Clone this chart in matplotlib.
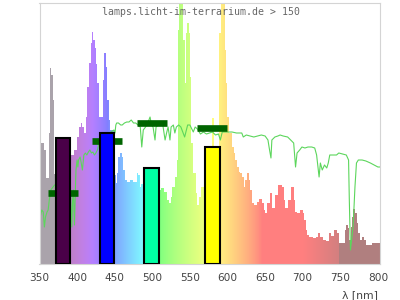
import numpy as np
import matplotlib
matplotlib.use("Agg")
import matplotlib.pyplot as plt

# ---- lamp spectrum (left edge of each step in nm, relative intensity) ----
lamp_wl = [351.5, 352.4, 356.4, 358.6, 362.6, 364.0, 365.8, 368.0, 369.4, 372, 376, 380, 384, 388,
           390.7, 396.0, 399.6, 402.7, 404.9, 407.1, 409.3, 411.5, 413.7, 415.9, 418.1, 419.4, 421.6,
           423.4, 425.5, 426.5, 428.7, 429.5, 434.8, 436.1, 438.7, 440.0, 442.2, 444.0,
           449.4, 451.2, 452.9, 454.7, 456.9, 459.1, 461.3, 463.5, 466.2, 470.2, 474.6, 479.0,
           481.2, 483.4, 485.6, 492, 500, 505, 508.9, 511.1, 515.6, 519.1, 522.2, 524.4, 526.6,
           529.7, 532.4, 534.1, 535.5, 540.8, 543.0, 545.2, 546.5, 548.7, 550.1, 551.8, 554.4,
           557.5, 559.7, 561.9, 564.1, 568.5, 574, 579.4, 581.6, 586, 589.1, 591.4, 596.3, 598.1,
           599.4, 601.6, 606.0, 608.2, 610.4, 612.6, 614.9, 617.1, 619.3, 621.5, 623.7, 625.9,
           628.1, 630.3, 632.5, 634.7, 639.2, 641.4, 645.8, 648.0, 650.2, 652.4, 656.9, 659, 663,
           667, 672, 675, 677, 681, 684, 688, 690, 693, 697, 700, 702, 704, 706, 709, 714, 718,
           720, 723, 727, 731, 735, 738, 742, 745, 748, 756, 757, 760, 762, 764, 766, 767.5, 770,
           772, 774, 776, 779, 782, 784, 792]
lamp_val = [104, 121, 114, 86, 131, 196, 189, 164, 90, 80, 85, 95, 90, 100,
            109, 114, 127, 137, 141, 137, 131, 147, 177, 201, 221, 232, 224,
            216, 200, 181, 151, 147, 184, 211, 197, 164, 144, 134,
            89, 81, 91, 107, 111, 107, 94, 84, 82, 84, 82, 91,
            89, 77, 80, 75, 72, 72, 74, 76, 72, 64, 61, 67, 77,
            87, 104, 234, 300, 224, 181, 231, 241, 231, 187, 121, 91,
            71, 59, 67, 77, 85, 95, 146, 100, 110, 231, 300, 214, 181,
            147, 131, 117, 111, 104, 97, 92, 91, 87, 77, 84, 91,
            84, 74, 61, 59, 62, 65, 61, 54, 51, 61, 71, 56, 69,
            79, 77, 64, 56, 64, 77, 64, 52, 51, 54, 51, 44, 34, 29, 27, 26, 27,
            31, 27, 24, 23, 31, 28, 34, 31, 21, 34, 39, 36, 24, 37, 47, 55, 51,
            41, 31, 24, 27, 24, 19, 21]

# ---- reference sunlight curve ----
sun_wl = [351.5, 353, 355, 356.5, 358, 360, 361.5, 363, 365, 370, 375, 380, 385, 390, 391, 392,
          393, 394, 395, 396.5, 397.5, 398.5, 400, 401, 402, 404, 405.5, 407, 409, 411, 413, 415,
          417, 419, 421, 423, 425, 427, 430, 435, 440, 445, 449, 450.4, 451.5, 452.6, 455, 458,
          460, 463, 466, 469, 472, 475, 478, 481, 484, 486, 488, 491, 494, 497, 499, 501, 503.6,
          505, 508, 511, 514, 517, 519, 521, 523.5, 525, 528, 530, 532, 535, 538, 541, 543, 545,
          547, 550, 554.5, 557, 560, 564, 568, 572, 576, 580, 584, 588, 590.5, 593, 600, 606, 612,
          619, 621, 625, 630, 635, 640, 645, 650, 653.8, 655.5, 657.8, 659, 663, 667, 670, 674,
          680, 684, 688, 690.5, 692.5, 696, 699, 703, 707, 712, 716, 718.5, 720, 721.8, 723.5,
          726, 729, 732, 734, 736, 740, 745, 748, 753, 758, 761, 762, 763.5, 765, 767, 769.5,
          771.5, 774, 779, 784, 790, 795, 800, 803]
sun_val = [49, 54, 52, 37, 47, 52, 54, 64, 74, 79, 79, 84, 79, 74, 74, 57,
           37, 64, 74, 39, 69, 94, 104, 97, 104, 107, 101, 94, 109, 111, 109, 112,
           114, 111, 112, 109, 111, 114, 124, 126, 129, 132, 134, 131, 139, 141, 141, 139,
           139, 141, 142, 142, 144, 141, 141, 139, 137, 117, 134, 137, 141, 147, 139, 137, 124,
           137, 139, 141, 139, 124, 131, 137, 124, 137, 139, 131, 137, 139, 137, 131, 127, 133,
           139, 139, 132, 137, 135, 130, 132, 130, 131, 132, 129, 130, 124, 132, 132, 132, 131,
           131, 127, 129, 128, 127, 128, 129, 128, 124, 116, 106, 124, 127, 128, 129, 128,
           127, 124, 121, 97, 111, 114, 117, 116, 117, 117, 116, 109, 99, 87, 101,
           94, 99, 96, 101, 109, 109, 109, 111, 110, 109, 104, 64, 14, 24, 37, 77,
           101, 104, 104, 103, 101, 99, 97, 97]

# ---- LED bars and their markers ----
led_center = [381, 440, 499, 580]
led_height = [126, 131, 96, 117]
led_colors = ["#4a0048", "#0000ff", "#00ffa4", "#ffff00"]
marker_val = [71, 123, 141, 136]

title = "lamps.licht-im-terrarium.de > 150"
xticks = [350, 400, 450, 500, 550, 600, 650, 700, 750, 800]
xlabel = "λ [nm]"

X0, X1 = 350, 803.2
YMAX = 261


def wl_color(w):
    if w < 380:
        return np.array([170, 163, 171]) / 255.0
    if w < 440:
        r, g, b = -(w - 440) / 60.0, 0.0, 1.0
    elif w < 490:
        r, g, b = 0.0, (w - 440) / 50.0, 1.0
    elif w < 510:
        r, g, b = 0.0, 1.0, -(w - 510) / 20.0
    elif w < 580:
        r, g, b = (w - 510) / 70.0, 1.0, 0.0
    elif w < 645:
        r, g, b = 1.0, -(w - 645) / 65.0, 0.0
    else:
        r, g, b = 1.0, 0.0, 0.0
    if w < 420:
        f = 0.3 + 0.7 * (w - 380) / 40.0
    elif w <= 700:
        f = 1.0
    else:
        f = 0.3 + 0.7 * (780 - w) / 80.0
    if w >= 748:
        f = 0.3
    c = np.clip(np.array([r, g, b]) * f, 0, 1) ** 0.8
    return 0.5 + 0.5 * c


fig = plt.figure(figsize=(4, 3), dpi=100)
ax = fig.add_axes([39.5 / 400, 36 / 300, (380.3 - 39.5) / 400, 261 / 300])
ax.set_xlim(X0, X1)
ax.set_ylim(0, YMAX)

# spectrum fill with wavelength gradient
edges = list(lamp_wl) + [X1]
vals = list(lamp_val) + [lamp_val[-1]]
poly = ax.fill_between(edges, vals, step="post", facecolor="none", edgecolor="none")
grid = np.linspace(X0, X1, 1200)
grad = np.array([wl_color(w) for w in grid])[None, :, :]
im = ax.imshow(grad, extent=[X0, X1, 0, YMAX], aspect="auto", origin="lower",
               interpolation="nearest", zorder=1)
im.set_clip_path(poly.get_paths()[0], transform=ax.transData)

# sunlight line
ax.plot(sun_wl, sun_val, color="#5cd65c", lw=0.8, zorder=2)

# markers
for c, v in zip(led_center, marker_val):
    ax.plot([c - 20, c + 20], [v, v], color="#006400", lw=4.8,
            solid_capstyle="butt", zorder=3)

# bars
ax.bar(led_center, led_height, width=19, color=led_colors, edgecolor="black",
       linewidth=1.5, zorder=4)

ax.set_xticks(xticks)
ax.set_yticks([])
ax.tick_params(axis="x", length=0, pad=6.5, labelsize=7.6, labelcolor="#444444")
for s in ax.spines.values():
    s.set_color("#d4d4d4")
    s.set_linewidth(0.8)

ax.text(0.475, 1 - 9 / 261, title, transform=ax.transAxes, ha="center", va="center",
        family="DejaVu Sans Mono", fontsize=7.1, color="#666666", zorder=6)
fig.text(378.5 / 400, 1 - 295 / 300, xlabel, ha="right", va="center", fontsize=7.8,
         color="#444444")

fig.savefig("out.png", dpi=100)
